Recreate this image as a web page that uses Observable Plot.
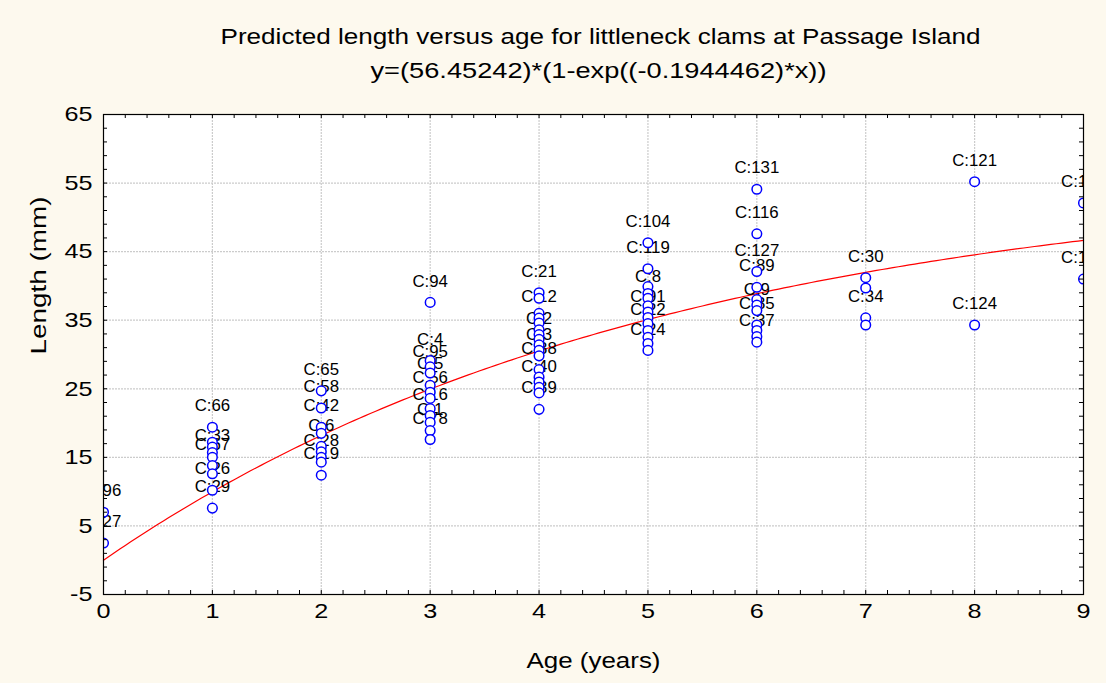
<!DOCTYPE html>
<html>
<head>
<meta charset="utf-8">
<script src="https://cdn.jsdelivr.net/npm/d3@7"></script>
<script src="https://cdn.jsdelivr.net/npm/@observablehq/plot@0.6"></script>
<style>
  html, body { margin: 0; padding: 0; background: #FDF9EE; }
  #chart { width: 1106px; height: 683px; overflow: hidden; }
</style>
</head>
<body>
<div id="chart"></div>
<script>
// ---- data ----
const ages = [0, 1, 2, 3, 4, 5, 6, 7, 8, 9];
const len0 = [7.0, 2.5];
const lab0 = ["C:96", "C:27"];
const len1 = [19.4, 17.2, 16.5, 15.7, 15.0, 13.8, 12.6, 10.2, 7.6];
const lab1 = ["C:66", "", "", "", "C:33", "C:67", "", "C:26", "C:29"];
const len2 = [24.7, 22.2, 19.4, 18.5, 16.6, 15.8, 15.0, 14.3, 12.4];
const lab2 = ["C:65", "C:58", "C:42", "", "C:6", "", "", "C:28", "C:19"];
const len3 = [37.6, 29.1, 28.2, 27.3, 25.5, 24.5, 23.6, 22.1, 21.1, 20.1, 18.9, 17.6];
const lab3 = ["C:94", "C:4", "", "C:95", "C:5", "", "C:56", "", "C:16", "", "C:1", "C:78"];
const len4 = [39.0, 38.2, 36.0, 35.3, 34.6, 33.6, 32.9, 32.2, 31.4, 30.6, 29.8, 27.8, 26.7, 26.0, 25.2, 24.4, 22.0];
const lab4 = ["C:21", "", "", "C:12", "", "", "", "C:2", "", "", "C:3", "C:38", "", "", "C:40", "", "C:39"];
const len5 = [46.3, 42.5, 39.9, 38.9, 38.2, 37.1, 36.2, 35.4, 34.5, 33.5, 32.5, 31.6, 30.6];
const lab5 = ["C:104", "C:119", "", "", "C:8", "", "", "C:91", "", "C:22", "", "", "C:24"];
const len6 = [54.1, 47.6, 42.1, 39.8, 38.0, 37.2, 36.4, 34.3, 33.5, 32.6, 31.8];
const lab6 = ["C:131", "C:116", "C:127", "C:89", "", "", "C:9", "C:35", "", "", "C:37"];
const len7 = [41.2, 39.7, 35.35, 34.3];
const lab7 = ["C:30", "", "C:34", ""];
const len8 = [55.2, 34.3];
const lab8 = ["C:121", "C:124"];
const len9 = [52.1, 41.0];
const lab9 = ["C:132", "C:129"];

// fitted model shown in the subtitle: y = a*(1-exp(b*x))
const fitA = 56.45242;
const fitB = -0.1944462;

const xTicks = [0, 1, 2, 3, 4, 5, 6, 7, 8, 9];
const yTicks = [-5, 5, 15, 25, 35, 45, 55, 65];
const titleText = "Predicted length versus age for littleneck clams at Passage Island";
const subtitleText = "y=(56.45242)*(1-exp((-0.1944462)*x))";
const xLabel = "Age (years)";
const yLabel = "Length (mm)";

// ---- build table ----
const lens = [len0, len1, len2, len3, len4, len5, len6, len7, len8, len9];
const labs = [lab0, lab1, lab2, lab3, lab4, lab5, lab6, lab7, lab8, lab9];
const points = [];
ages.forEach((a, i) => lens[i].forEach((v, j) => points.push({age: a, len: v, label: labs[i][j]})));
const labelled = points.filter(d => d.label);
const curve = d3.range(0, 9.0001, 0.05).map(x => ({x, y: fitA * (1 - Math.exp(fitB * x))}));

const minorX = d3.range(0, 9.0001, 0.2).map(v => +v.toFixed(1));
const minorY = d3.range(-5, 65.0001, 2);
const gridX = xTicks.slice(1, -1);
const gridY = yTicks.slice(1, -1);
const innerW = 1106 - 103 - 23;
const innerH = 683 - 114 - 89;
const tk = 4;

const font = "Arial, 'Liberation Sans', sans-serif";

const chart = Plot.plot({
  width: 1106,
  height: 683,
  marginLeft: 103,
  marginRight: 23,
  marginTop: 114,
  marginBottom: 89,
  style: {background: "#FDF9EE", fontFamily: font, fontSize: "21px", color: "black"},
  x: {domain: [0, 9], ticks: xTicks, tickSize: 0, tickPadding: 9, tickFormat: d => String(d), label: null},
  y: {domain: [-5, 65], ticks: yTicks, tickSize: 0, tickPadding: 11, tickFormat: d => String(d), label: null},
  marks: [
    Plot.frame({fill: "white", stroke: "none"}),
    Plot.ruleX(gridX, {stroke: "#cccccc", strokeWidth: 1.2, strokeDasharray: "2,1"}),
    Plot.ruleY(gridY, {stroke: "#cccccc", strokeWidth: 1.2, strokeDasharray: "2,1"}),
    Plot.line(curve, {x: "x", y: "y", stroke: "#ff0000", strokeWidth: 1.2}),
    Plot.text(labelled, {x: "age", y: "len", text: "label", dy: -21, fontSize: 16, fill: "black", clip: true}),
    Plot.dot(points, {x: "age", y: "len", r: 4.8, stroke: "#0000ff", strokeWidth: 1.5, fill: "white", clip: true}),
    // inward ticks on all four sides
    Plot.tickX(minorX, {x: d => d, insetTop: innerH - tk, stroke: "black"}),
    Plot.tickX(minorX, {x: d => d, insetBottom: innerH - tk, stroke: "black"}),
    Plot.tickY(minorY, {y: d => d, insetRight: innerW - tk, stroke: "black"}),
    Plot.tickY(minorY, {y: d => d, insetLeft: innerW - tk, stroke: "black"}),
    Plot.frame({stroke: "black", strokeWidth: 1.2}),
    Plot.text([titleText], {frameAnchor: "top", lineAnchor: "middle", dx: 7, dy: -78, fontSize: 22, fill: "black"}),
    Plot.text([subtitleText], {frameAnchor: "top", lineAnchor: "middle", dx: 5, dy: -44, fontSize: 22, fill: "black"}),
    Plot.text([xLabel], {frameAnchor: "bottom", lineAnchor: "middle", dy: 66, fontSize: 22, fill: "black"}),
    Plot.text([yLabel], {frameAnchor: "left", lineAnchor: "middle", dx: -65, rotate: -90, fontSize: 22, fill: "black"})
  ]
});
document.getElementById("chart").appendChild(chart);

// the reference renders its text horizontally wider than Arial: stretch to match
const targetWidths = new Map([[titleText, 760], [subtitleText, 456], [xLabel, 134], [yLabel, 158]]);
const tickStrings = new Set([...xTicks, ...yTicks].map(String));
const caseStrings = new Set(labelled.map(d => d.label));
d3.select(chart).selectAll("text").each(function() {
  const t = this.textContent;
  let w = null;
  if (targetWidths.has(t)) w = targetWidths.get(t);
  else if (tickStrings.has(t)) w = this.getComputedTextLength() * 1.2;
  else if (caseStrings.has(t)) w = this.getComputedTextLength() * 1.05;
  if (w) {
    this.setAttribute("textLength", w);
    this.setAttribute("lengthAdjust", "spacingAndGlyphs");
  }
});
</script>
</body>
</html>
